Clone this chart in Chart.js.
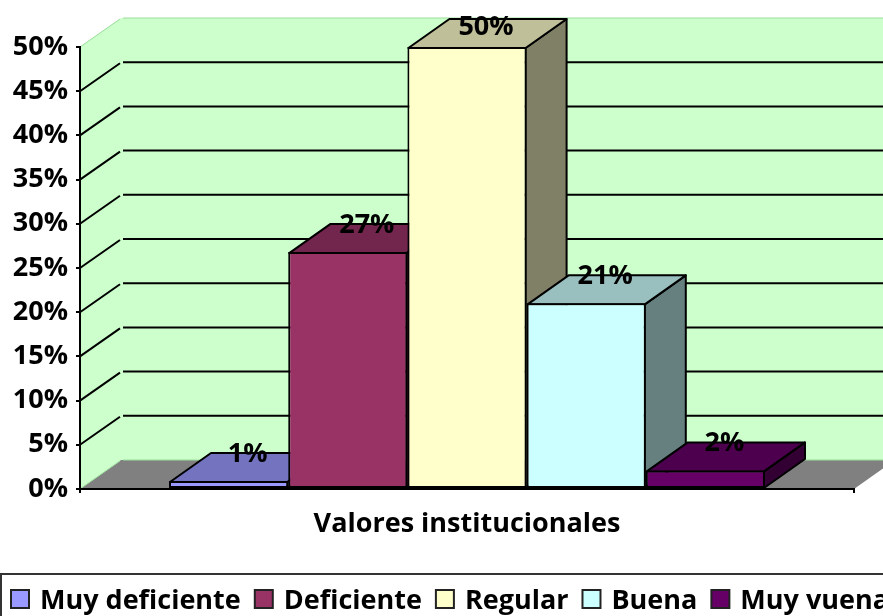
<!DOCTYPE html>
<html>
<head>
<meta charset="utf-8">
<style>
html,body{margin:0;padding:0;background:#fff;overflow:hidden;width:883px;height:616px}
#wrap{width:1000px;height:640px}
</style>
<script src="https://cdn.jsdelivr.net/npm/chart.js@4"></script>
</head>
<body>
<div id="wrap"><canvas id="chart" width="1000" height="640"></canvas></div>
<script>
const categories = ['Muy deficiente','Deficiente','Regular','Buena','Muy vuena'];
const values = [0.9, 26.8, 50, 21, 2.1];
const valueLabels = ['1%','27%','50%','21%','2%'];
const barColors = ['#9999ff','#993366','#ffffcc','#ccffff','#660066'];
const yTicks = [0,5,10,15,20,25,30,35,40,45,50];

const FONT = '"Open Sans"';
const depthX = 41, depthY = 29;

function shade(hex,k){
  const n = parseInt(hex.slice(1),16);
  const r = Math.round((n>>16&255)*k), g = Math.round((n>>8&255)*k), b = Math.round((n&255)*k);
  return `rgb(${r},${g},${b})`;
}

function poly(ctx,pts,fill,stroke,lw){
  ctx.beginPath();
  pts.forEach((p,i)=> i ? ctx.lineTo(p[0],p[1]) : ctx.moveTo(p[0],p[1]));
  ctx.closePath();
  if(fill){ ctx.fillStyle = fill; ctx.fill(); }
  if(stroke){ ctx.strokeStyle = stroke; ctx.lineWidth = lw; ctx.stroke(); }
}

// walls, floor and gridlines of the 3D box
const wallsPlugin = {
  id:'walls',
  beforeDraw(chart){
    const ctx = chart.ctx, a = chart.chartArea, y = chart.scales.y;
    ctx.save();
    const backRight = a.right + depthX;
    poly(ctx,[[a.left+depthX,a.top-depthY],[backRight,a.top-depthY],[backRight,a.bottom-depthY],[a.left+depthX,a.bottom-depthY]],'#ccffcc');
    poly(ctx,[[a.left,a.top],[a.left+depthX,a.top-depthY],[a.left+depthX,a.bottom-depthY],[a.left,a.bottom]],'#ccffcc');
    poly(ctx,[[a.left,a.bottom],[a.left+depthX,a.bottom-depthY],[backRight,a.bottom-depthY],[a.right,a.bottom]],'#808080');
    yTicks.forEach(t=>{
      const py = y.getPixelForValue(t);
      const edge = t===0 || t===50;
      ctx.strokeStyle = edge ? '#99dd99' : '#000';
      ctx.lineWidth = edge ? 1 : 2;
      ctx.beginPath();
      ctx.moveTo(a.left,py);
      ctx.lineTo(a.left+depthX-1,py-depthY+1);
      ctx.moveTo(a.left+depthX+2,py-depthY);
      ctx.lineTo(backRight,py-depthY);
      ctx.stroke();
    });
    ctx.restore();
  },
  // top and side faces of the bars, fronts come from the library
  beforeDatasetsDraw(chart){
    const ctx = chart.ctx;
    ctx.save();
    ctx.lineJoin = 'round';
    chart.data.datasets.forEach((ds,i)=>{
      const b = chart.getDatasetMeta(i).data[0];
      // 1px in from the bar box so the faces meet the centre of the front's border
      const l = b.x-b.width/2+1, r = b.x+b.width/2-1, t = b.y+1;
      poly(ctx,[[r,t],[r+depthX,t-depthY],[r+depthX,b.base-depthY],[r,b.base]],shade(ds.backgroundColor,0.5),'#000',2);
      poly(ctx,[[l,t],[l+depthX,t-depthY],[r+depthX,t-depthY],[r,t]],shade(ds.backgroundColor,0.75),'#000',2);
    });
    ctx.restore();
  },
  afterDraw(chart){
    const ctx = chart.ctx;
    ctx.save();
    // value labels
    ctx.font = `bold 27px ${FONT}`;
    ctx.fillStyle = '#000';
    ctx.textAlign = 'center';
    ctx.textBaseline = 'middle';
    chart.data.datasets.forEach((ds,i)=>{
      const b = chart.getDatasetMeta(i).data[0];
      ctx.fillText(valueLabels[i], b.x+19, Math.max(b.y-27,27));
    });
    // legend, frame runs off the picture as in the original
    const top = chart.scales.x.bottom;
    ctx.strokeStyle = '#333';
    ctx.lineWidth = 2;
    ctx.strokeRect(1,top,chart.width+10,100);
    ctx.font = `bold 27px ${FONT}`;
    ctx.textAlign = 'left';
    ctx.textBaseline = 'alphabetic';
    let x = 10;
    chart.data.datasets.forEach(ds=>{
      ctx.fillStyle = ds.backgroundColor;
      ctx.fillRect(x+1,top+16,18,18);
      ctx.strokeStyle = '#222';
      ctx.strokeRect(x+1,top+16,18,18);
      x += 30;
      ctx.fillStyle = '#000';
      ctx.fillText(ds.label,x,top+35);
      x += ctx.measureText(ds.label).width + 13;
    });
    ctx.restore();
  }
};

new Chart(document.getElementById('chart'),{
  type:'bar',
  data:{
    labels:[''],
    datasets:categories.map((c,i)=>({
      label:c,
      data:[values[i]],
      backgroundColor:barColors[i],
      borderColor:'#000',
      borderWidth:2,
      borderSkipped:false
    }))
  },
  options:{
    responsive:false,
    animation:false,
    events:[],
    layout:{padding:{top:47,left:0,right:146,bottom:66}},
    categoryPercentage:0.77,
    barPercentage:1,
    scales:{
      x:{
        grid:{drawOnChartArea:false,color:'#000',lineWidth:2,tickLength:4},
        border:{color:'#000',width:2},
        ticks:{display:false},
        title:{display:true,text:'Valores institucionales',color:'#000',font:{family:FONT,size:27,weight:'bold'},padding:{top:15,bottom:33}},
        afterFit(s){ s.height = 85; }
      },
      y:{
        min:0,max:50,
        grid:{drawOnChartArea:false,color:'#000',lineWidth:2,tickLength:4},
        border:{color:'#000',width:2},
        ticks:{stepSize:5,color:'#000',padding:8,font:{family:FONT,size:27,weight:'bold'},callback:v=>v+'%'},
        afterFit(s){ s.width = 80; }
      }
    },
    plugins:{
      tooltip:{enabled:false},
      legend:{display:false}
    }
  },
  plugins:[wallsPlugin]
});
</script>
</body>
</html>
